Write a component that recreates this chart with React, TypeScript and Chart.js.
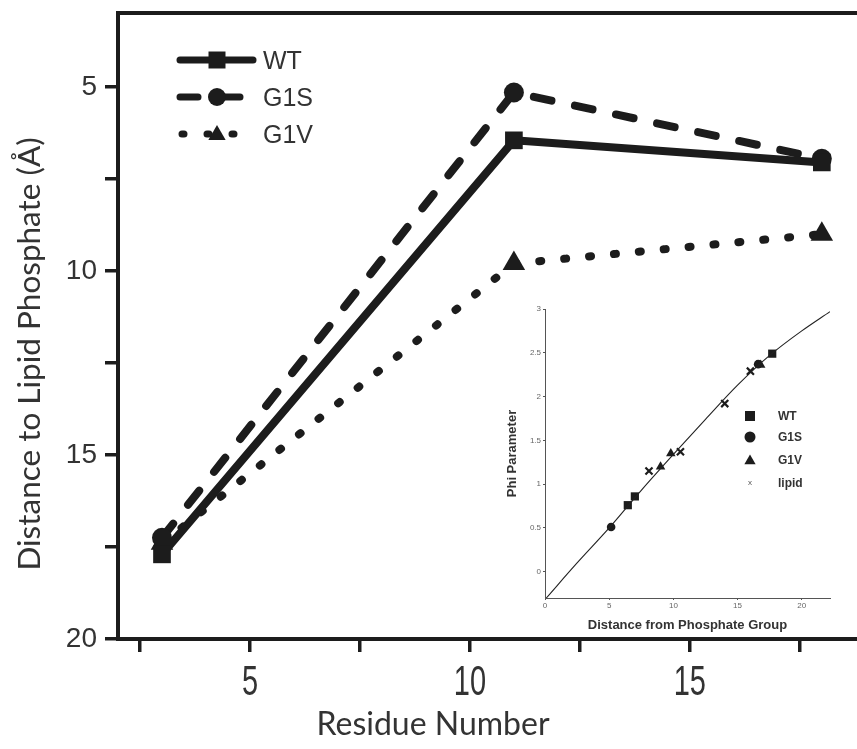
import React, { useEffect, useRef } from 'react';
import { Chart, registerables } from 'chart.js';

Chart.register(...registerables);

// ---------- main chart data ----------
const residues = [3, 11, 18];
const wtDist = [17.7, 6.45, 7.05];
const g1sDist = [17.25, 5.15, 6.95];
const g1vDist = [17.4, 9.8, 9.0];
const seriesNames = ['WT', 'G1S', 'G1V'];
const yTickValues = [5, 7.5, 10, 12.5, 15, 17.5, 20];
const xTickValues = [2.5, 5, 7.5, 10, 12.5, 15, 17.5];
const xLabelValues = [5, 10, 15];
const xTitle = 'Residue Number';
const yTitle = 'Distance to Lipid Phosphate (Å)';

// ---------- inset data ----------
const wtInsetX = [6.45, 7.0, 17.7];
const wtInsetY = [0.76, 0.86, 2.49];
const g1sInsetX = [5.15, 16.6];
const g1sInsetY = [0.51, 2.37];
const g1vInsetX = [9.0, 9.8, 16.8];
const g1vInsetY = [1.2, 1.35, 2.36];
const lipidInsetX = [8.1, 10.55, 14.0, 16.0];
const lipidInsetY = [1.15, 1.37, 1.92, 2.29];
const curveX = [0.1, 2.5, 5, 7.5, 10, 12.5, 15, 17.5, 20, 22.2];
const curveY = [-0.3, 0.1, 0.5, 0.93, 1.34, 1.74, 2.13, 2.47, 2.75, 2.97];
const insetNames = ['WT', 'G1S', 'G1V', 'lipid'];
const insetYTicks = [0, 0.5, 1, 1.5, 2, 2.5, 3];
const insetXTicks = [0, 5, 10, 15, 20];
const insetXTitle = 'Distance from Phosphate Group';
const insetYTitle = 'Phi Parameter';

const INK = '#1c1c1c';
const TXT = '#333333';

const zip = (xs: number[], ys: number[]) => xs.map((x, i) => ({ x, y: ys[i] }));

const noPadV = (s: any) => { s.paddingTop = 0; s.paddingBottom = 0; };
const noPadH = (s: any) => { s.paddingLeft = 0; s.paddingRight = 0; };

function drawMarker(ctx: CanvasRenderingContext2D, kind: string, x: number, y: number, r: number) {
  ctx.beginPath();
  if (kind === 'rect') {
    ctx.rect(x - r, y - r, 2 * r, 2 * r);
    ctx.fill();
  } else if (kind === 'circle') {
    ctx.arc(x, y, r, 0, Math.PI * 2);
    ctx.fill();
  } else if (kind === 'triangle') {
    const s = Math.sin(Math.PI / 3) * r;
    ctx.moveTo(x, y - r);
    ctx.lineTo(x + s, y + r / 2);
    ctx.lineTo(x - s, y + r / 2);
    ctx.closePath();
    ctx.fill();
  }
}

function MainChart() {
  const ref = useRef<HTMLCanvasElement>(null);
  useEffect(() => {
    if (!ref.current) return;
    const dashes = [[], [18, 24], [2, 23]];
    const styles = ['rect', 'circle', 'triangle'];
    const decor = {
      id: 'decor',
      afterDraw(chart: any) {
        const { ctx, chartArea, scales } = chart;
        ctx.save();
        // top frame line
        ctx.strokeStyle = INK;
        ctx.lineWidth = 4;
        ctx.beginPath();
        ctx.moveTo(chartArea.left - 2, chartArea.top);
        ctx.lineTo(chart.width, chartArea.top);
        ctx.stroke();
        // x tick labels (tall, narrow)
        ctx.fillStyle = TXT;
        ctx.font = '42px "Liberation Sans", Arial, sans-serif';
        ctx.textAlign = 'center';
        ctx.textBaseline = 'alphabetic';
        xLabelValues.forEach((v) => {
          const px = scales.x.getPixelForValue(v);
          ctx.save();
          ctx.translate(px, 695);
          ctx.scale(0.69, 1);
          ctx.fillText(String(v), 0, 0);
          ctx.restore();
        });
        // axis titles
        ctx.font = '32px Lato, "Open Sans", sans-serif';
        ctx.textBaseline = 'middle';
        ctx.fillText(xTitle, 433, 725);
        ctx.save();
        ctx.translate(30, 354);
        ctx.rotate(-Math.PI / 2);
        ctx.font = '31.5px Lato, "Open Sans", sans-serif';
        ctx.fillText(yTitle, 0, 0);
        ctx.restore();
        // legend
        const ys = [60, 97, 134];
        seriesNames.forEach((name, i) => {
          const y = ys[i];
          ctx.strokeStyle = INK;
          ctx.lineWidth = 7;
          ctx.lineCap = 'round';
          ctx.setLineDash(dashes[i]);
          ctx.beginPath();
          if (i === 0) {
            ctx.moveTo(180, y);
            ctx.lineTo(253, y);
          } else if (i === 1) {
            ctx.moveTo(180, y);
            ctx.lineTo(241, y);
          } else {
            ctx.moveTo(182, y);
            ctx.lineTo(240, y);
          }
          ctx.stroke();
          ctx.setLineDash([]);
          ctx.fillStyle = INK;
          if (i === 0) drawMarker(ctx, 'rect', 217, y, 8.5);
          if (i === 1) drawMarker(ctx, 'circle', 217, y, 9);
          if (i === 2) drawMarker(ctx, 'triangle', 217, y + 1, 10);
          ctx.fillStyle = TXT;
          ctx.font = '25px "Liberation Sans", Arial, sans-serif';
          ctx.textAlign = 'left';
          ctx.textBaseline = 'alphabetic';
          ctx.fillText(name, 263, y + 9);
        });
        ctx.restore();
      },
    };
    const chart = new Chart(ref.current, {
      type: 'line',
      data: {
        datasets: [wtDist, g1sDist, g1vDist].map((vals, i) => ({
          label: seriesNames[i],
          data: zip(residues, vals),
          borderColor: INK,
          backgroundColor: INK,
          borderWidth: 8,
          borderDash: dashes[i],
          borderCapStyle: i === 0 ? 'butt' : 'round',
          borderJoinStyle: 'round',
          pointStyle: styles[i],
          pointRadius: i === 0 ? 12.5 : i === 1 ? 10 : 13,
          pointBackgroundColor: INK,
          pointBorderWidth: 0,
          fill: false,
          tension: 0,
        })) as any,
      },
      options: {
        responsive: false,
        animation: false,
        devicePixelRatio: 1,
        layout: { autoPadding: false, padding: { top: 13, right: 0, left: 0, bottom: 0 } },
        plugins: { legend: { display: false }, tooltip: { enabled: false } },
        scales: {
          x: {
            type: 'linear',
            min: 2,
            max: 18.8,
            afterFit: (s: any) => { s.height = 110; noPadH(s); },
            afterBuildTicks: (s: any) => { s.ticks = xTickValues.map((v) => ({ value: v })); },
            ticks: { autoSkip: false, maxRotation: 0, callback: () => '', font: { size: 10 } },
            grid: { drawOnChartArea: false, drawTicks: true, tickLength: 13, lineWidth: 3.5, color: INK },
            border: { display: true, width: 4, color: INK },
          },
          y: {
            type: 'linear',
            reverse: true,
            min: 2.99,
            max: 20,
            afterFit: (s: any) => { s.width = 118; noPadV(s); },
            afterBuildTicks: (s: any) => { s.ticks = yTickValues.map((v) => ({ value: v })); },
            ticks: {
              autoSkip: false,
              padding: 8,
              color: TXT,
              font: { family: '"Liberation Sans", Arial, sans-serif', size: 28 },
              callback: (v: any) => (Number(v) % 5 === 0 ? String(v) : ''),
            },
            grid: { drawOnChartArea: false, drawTicks: true, tickLength: 13, lineWidth: 3.5, color: INK },
            border: { display: true, width: 4, color: INK },
          },
        },
      } as any,
      plugins: [decor],
    });
    return () => chart.destroy();
  }, []);
  return (
    <canvas ref={ref} width={857} height={749} style={{ position: 'absolute', left: 0, top: 0, width: 857, height: 749 }} />
  );
}

function InsetChart() {
  const ref = useRef<HTMLCanvasElement>(null);
  useEffect(() => {
    if (!ref.current) return;
    const legend = {
      id: 'insetLegend',
      afterDraw(chart: any) {
        const { ctx } = chart;
        ctx.save();
        const ox = 488, oy = 292;
        const mx = 750 - ox;
        const ys = [416, 437, 460, 483].map((v) => v - oy);
        ctx.fillStyle = INK;
        drawMarker(ctx, 'rect', mx, ys[0], 5);
        drawMarker(ctx, 'circle', mx, ys[1], 5.5);
        drawMarker(ctx, 'triangle', mx, ys[2] + 1, 6.5);
        ctx.font = '8px "Liberation Sans", Arial, sans-serif';
        ctx.fillStyle = '#555';
        ctx.textAlign = 'center';
        ctx.textBaseline = 'middle';
        ctx.fillText('x', mx, ys[3]);
        ctx.fillStyle = TXT;
        ctx.font = 'bold 12px "Liberation Sans", Arial, sans-serif';
        ctx.textAlign = 'left';
        insetNames.forEach((n, i) => ctx.fillText(n, 778 - ox, ys[i] + 1));
        ctx.restore();
      },
    };
    const tickFont = { family: '"Liberation Sans", Arial, sans-serif', size: 8 };
    const chart = new Chart(ref.current, {
      type: 'scatter',
      data: {
        datasets: [
          {
            label: 'fit',
            data: zip(curveX, curveY),
            showLine: true,
            borderColor: '#222',
            borderWidth: 1.1,
            pointRadius: 0,
            cubicInterpolationMode: 'monotone',
          },
          {
            label: 'WT',
            data: zip(wtInsetX, wtInsetY),
            pointStyle: 'rect',
            pointRadius: 5.8,
            backgroundColor: INK,
            borderWidth: 0,
          },
          {
            label: 'G1S',
            data: zip(g1sInsetX, g1sInsetY),
            pointStyle: 'circle',
            pointRadius: 4.3,
            backgroundColor: INK,
            borderWidth: 0,
          },
          {
            label: 'G1V',
            data: zip(g1vInsetX, g1vInsetY),
            pointStyle: 'triangle',
            pointRadius: 5.5,
            backgroundColor: INK,
            borderWidth: 0,
          },
          {
            label: 'lipid',
            data: zip(lipidInsetX, lipidInsetY),
            pointStyle: 'crossRot',
            pointRadius: 5,
            borderColor: INK,
            pointBorderWidth: 2.2,
            borderWidth: 2.2,
          },
        ] as any,
      },
      options: {
        responsive: false,
        animation: false,
        devicePixelRatio: 1,
        layout: { autoPadding: false, padding: { top: 17, right: 18, left: 0, bottom: 0 } },
        plugins: { legend: { display: false }, tooltip: { enabled: false } },
        scales: {
          x: {
            type: 'linear',
            min: 0,
            max: 22.2,
            afterFit: (s: any) => { s.height = 39; noPadH(s); },
            afterBuildTicks: (s: any) => { s.ticks = insetXTicks.map((v) => ({ value: v })); },
            ticks: { autoSkip: false, maxRotation: 0, padding: 1, color: '#666', font: tickFont, callback: (v: any) => String(v) },
            grid: { drawOnChartArea: false, drawTicks: true, tickLength: 2, lineWidth: 1, color: '#555' },
            border: { display: true, width: 1, color: '#555' },
            title: {
              display: true,
              text: insetXTitle,
              color: TXT,
              font: { family: '"Liberation Sans", Arial, sans-serif', size: 13, weight: 'bold' },
              padding: { top: 0, bottom: 4 },
            },
          },
          y: {
            type: 'linear',
            min: -0.3,
            max: 3,
            afterFit: (s: any) => { s.width = 57; noPadV(s); },
            afterBuildTicks: (s: any) => { s.ticks = insetYTicks.map((v) => ({ value: v })); },
            ticks: { autoSkip: false, padding: 2, color: '#666', font: tickFont, callback: (v: any) => String(v) },
            grid: { drawOnChartArea: false, drawTicks: true, tickLength: 2, lineWidth: 1, color: '#555' },
            border: { display: true, width: 1, color: '#555' },
            title: {
              display: true,
              text: insetYTitle,
              color: TXT,
              font: { family: '"Liberation Sans", Arial, sans-serif', size: 13, weight: 'bold' },
              padding: { top: 17, bottom: 0 },
            },
          },
        },
      } as any,
      plugins: [legend],
    });
    return () => chart.destroy();
  }, []);
  return (
    <canvas ref={ref} width={360} height={345} style={{ position: 'absolute', left: 488, top: 292, width: 360, height: 345 }} />
  );
}

export default function App() {
  useEffect(() => {
    document.body.style.margin = '0';
  }, []);
  return (
    <div style={{ position: 'absolute', left: 0, top: 0, width: 857, height: 749, background: '#ffffff', overflow: 'hidden' }}>
      <MainChart />
      <InsetChart />
    </div>
  );
}
